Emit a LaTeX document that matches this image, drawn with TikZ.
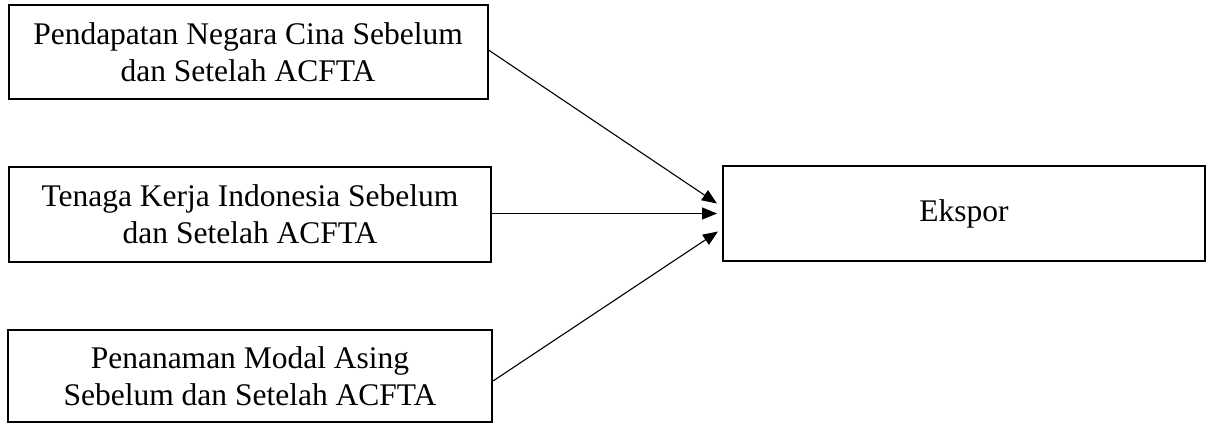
\documentclass[tikz,border=0pt]{standalone}
\usepackage{fontspec}
\setmainfont{Liberation Serif}
\usetikzlibrary{arrows.meta,calc}
\begin{document}
\begin{tikzpicture}[x=1pt,y=-1pt,
  box/.style={draw,line width=2pt,align=center,inner sep=0pt,
    font=\fontsize{31.5}{37}\selectfont},
  link/.style={line width=1.1pt,-{Triangle[length=15pt,width=12pt]}}]
\useasboundingbox (0,0) rectangle (1213,423);
% input variables
\node[box,minimum width=479pt,minimum height=94pt] (pn) at (248,52)
  {Pendapatan Negara Cina Sebelum\\dan Setelah ACFTA};
\node[box,minimum width=482pt,minimum height=95pt] (tk) at (250,214.5)
  {Tenaga Kerja Indonesia Sebelum\\dan Setelah ACFTA};
\node[box,minimum width=484pt,minimum height=92pt] (pma) at (250,376)
  {Penanaman Modal Asing\\Sebelum dan Setelah ACFTA};
% output variable
\node[box,minimum width=482pt,minimum height=95pt] (ek) at (964,213.5) {Ekspor};
% influences
\draw[link] ($(pn.east)+(0,-2)$) -- ($(ek.west)+(-5,-10)$);
\draw[link] ($(tk.east)+(0,-1)$) -- ($(ek.west)+(-5,0)$);
\draw[link] ($(pma.east)+(0,5)$) -- ($(ek.west)+(-4,18)$);
\end{tikzpicture}
\end{document}
